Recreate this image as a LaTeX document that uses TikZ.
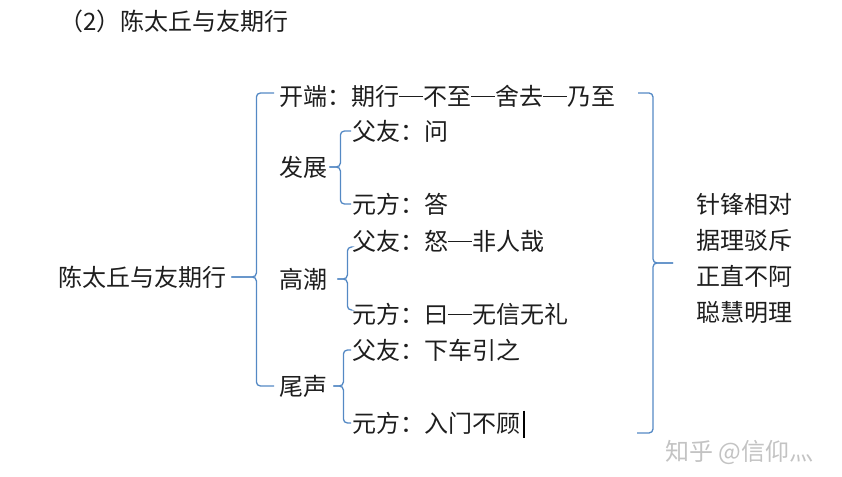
\documentclass[tikz,border=0pt]{standalone}
\usepackage{fontspec}
\setmainfont{Noto Sans CJK SC}
\definecolor{bracecol}{RGB}{84,137,196}
\definecolor{textcol}{RGB}{30,30,30}
\definecolor{marktext}{RGB}{195,195,195}
\newcommand{\ldash}{\rule[0.33em]{1em}{0.055em}}
\tikzset{
  txt/.style={anchor=west, inner sep=0pt, text=textcol, font=\fontsize{24}{28}\selectfont},
  brace line/.style={draw=bracecol, line width=1.3pt, rounded corners=4pt},
}
\begin{document}
\begin{tikzpicture}[x=1pt, y=-1pt]
\useasboundingbox (0,0) rectangle (842,476);
% title
\node[txt, anchor=east] (title) at (289,21) {（2）陈太丘与友期行};
% left column
\node[txt] (root) at (58,277) {陈太丘与友期行};
\node[txt] (kd) at (279,96) {开端：期行\ldash 不至\ldash 舍去\ldash 乃至};
\node[txt] (fz) at (279,167) {发展};
\node[txt] (gc) at (279,279) {高潮};
\node[txt] (ws) at (279,386) {尾声};
% dialogue lines
\node[txt] (fz1) at (352,131) {父友：问};
\node[txt] (fz2) at (352,204) {元方：答};
\node[txt] (gc1) at (352,241) {父友：怒\ldash 非人哉};
\node[txt] (gc2) at (352,314) {元方：曰\ldash 无信无礼};
\node[txt] (ws1) at (352,350) {父友：下车引之};
\node[txt] (ws2) at (352,423) {元方：入门不顾};
% right side
\node[txt, align=left, font=\fontsize{24}{36.3}\selectfont] (judge) at (696,258.5) {针锋相对\\据理驳斥\\正直不阿\\聪慧明理};
\node[txt, text=marktext] (mark) at (665,452) {知乎 @信仰灬};
% big brace
\draw[brace line] ([xshift=-5pt,yshift=3pt]kd.west) -| ([xshift=30pt]root.east) -- ([xshift=5pt]root.east);
\draw[brace line] ([xshift=5pt]root.east) -- ([xshift=30pt]root.east) |- ([xshift=-5pt]ws.west);
% small braces
\draw[brace line] ([xshift=-1pt]fz1.west) -| ([xshift=13pt]fz.east) -- ([xshift=2pt]fz.east);
\draw[brace line] ([xshift=2pt]fz.east) -- ([xshift=13pt]fz.east) |- ([xshift=-1pt]fz2.west);
\draw[brace line] ([xshift=-1pt,yshift=-6pt]gc1.west) -| ([xshift=20pt]gc.east) -- ([xshift=10pt]gc.east);
\draw[brace line] ([xshift=10pt]gc.east) -- ([xshift=20pt]gc.east) |- ([xshift=-1pt,yshift=4pt]gc2.west);
\draw[brace line] ([xshift=-1pt]ws1.west) -| ([xshift=16pt]ws.east) -- ([xshift=6pt]ws.east);
\draw[brace line] ([xshift=6pt]ws.east) -- ([xshift=16pt]ws.east) |- ([xshift=-1pt]ws2.west);
% right brace
\coordinate (rtop) at (638,93);
\coordinate (rbot) at (637,433);
\coordinate (rtip) at (673,263);
\draw[brace line] (rtop) -| ([xshift=-20pt]rtip) -- (rtip);
\draw[brace line] (rtip) -- ([xshift=-20pt]rtip) |- (rbot);
% cursor
\draw[line width=2pt] ([xshift=4pt,yshift=1pt]ws2.north east) -- ([xshift=4pt,yshift=-4pt]ws2.south east);
\end{tikzpicture}
\end{document}
